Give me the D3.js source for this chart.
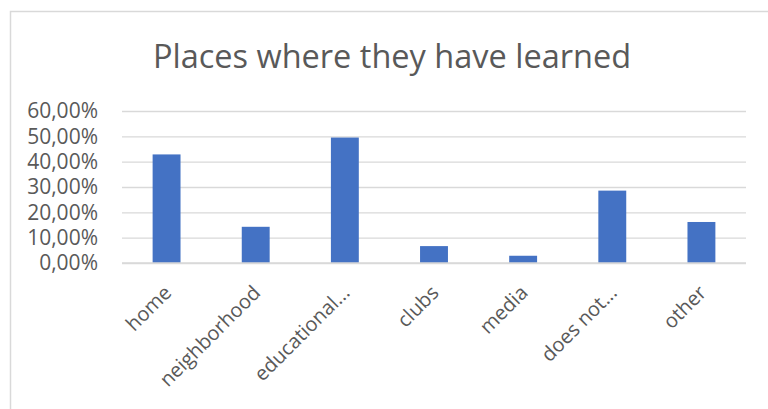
<!DOCTYPE html>
<html>
<head>
<meta charset="utf-8">
<script src="https://cdn.jsdelivr.net/npm/d3@7"></script>
<style>
  html, body { margin: 0; padding: 0; background: #fff; }
  svg { display: block; }
  text { font-family: "Open Sans", "Noto Sans", sans-serif; fill: #595959; }
</style>
</head>
<body>
<svg id="chart" width="768" height="409"></svg>
<script>
// Survey answers: share of respondents by place of learning
const categories = ["home", "neighborhood", "educational...", "clubs", "media", "does not...", "other"];
const shares = [0.4286, 0.1429, 0.4952, 0.0667, 0.0286, 0.2857, 0.1619];
const yTicks = [0, 0.1, 0.2, 0.3, 0.4, 0.5, 0.6];
const title = "Places where they have learned";

const svg = d3.select("#chart");
const W = 768, H = 409;
const margin = { top: 111, right: 22, bottom: 146, left: 122 };

// chart-area frame
svg.append("rect")
  .attr("x", 10.5).attr("y", 11.5)
  .attr("width", W + 10).attr("height", H + 10)
  .attr("fill", "none").attr("stroke", "#d9d9d9").attr("stroke-width", 1.5);

const x = d3.scaleBand()
  .domain(categories)
  .range([margin.left, W - margin.right])
  .paddingInner(0.687).paddingOuter(0.3435);

const y = d3.scaleLinear()
  .domain([0, 0.6])
  .range([H - margin.bottom, margin.top]);

const fmt = v => d3.format(".2f")(v * 100).replace(".", ",") + "%";

// horizontal gridlines with tick labels
const yAxis = d3.axisLeft(y).tickValues(yTicks).tickFormat(fmt)
  .tickSize(-(W - margin.right - margin.left)).tickPadding(24);
const gy = svg.append("g").attr("transform", `translate(${margin.left},0)`).call(yAxis);
gy.select(".domain").remove();
gy.selectAll(".tick line").attr("stroke", "#d9d9d9").attr("stroke-width", 1.3);
gy.selectAll(".tick text").attr("font-size", 21).style("fill", "#595959")
  .attr("font-family", "'Open Sans', sans-serif");

// bars
svg.append("g").selectAll("rect")
  .data(categories)
  .join("rect")
  .attr("x", d => x(d))
  .attr("width", x.bandwidth())
  .attr("y", (d, i) => y(shares[i]))
  .attr("height", (d, i) => y(0) - y(shares[i]))
  .attr("fill", "#4472c4");

// baseline
svg.append("line")
  .attr("x1", margin.left).attr("x2", W - margin.right)
  .attr("y1", y(0)).attr("y2", y(0))
  .attr("stroke", "#d9d9d9").attr("stroke-width", 1.5);

// rotated category labels
const xAxis = d3.axisBottom(x).tickSize(0).tickPadding(0);
const gx = svg.append("g").attr("transform", `translate(0,${y(0)})`).call(xAxis);
gx.select(".domain").remove();
gx.selectAll(".tick text")
  .attr("font-size", 20)
  .attr("font-family", "'Open Sans', sans-serif")
  .style("fill", "#595959")
  .attr("text-anchor", "end")
  .attr("dy", 0)
  .attr("transform", "translate(6,31) rotate(-45)");

// title
svg.append("text")
  .attr("x", 392).attr("y", 68)
  .attr("text-anchor", "middle")
  .attr("font-size", 32.5)
  .text(title);
</script>
</body>
</html>
